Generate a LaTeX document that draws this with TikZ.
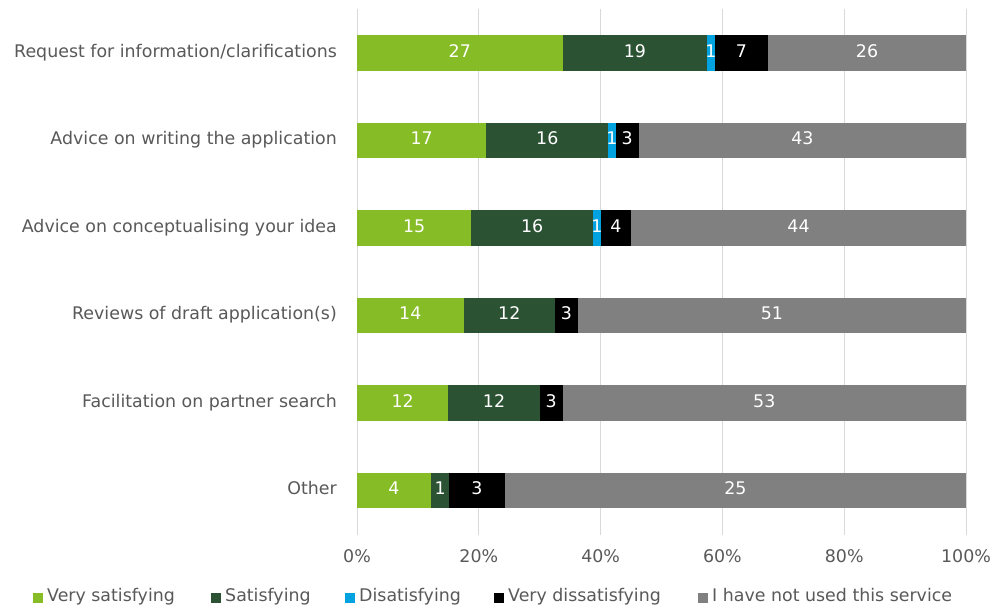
\documentclass[tikz,border=0pt]{standalone}
\usepackage{fontspec}
\setmainfont{DejaVu Sans}
\usetikzlibrary{positioning}

\definecolor{verysat}{HTML}{86BC25}
\definecolor{sat}{HTML}{2C5234}
\definecolor{disat}{HTML}{00A3E0}
\definecolor{verydisat}{HTML}{000000}
\definecolor{notused}{HTML}{808080}
\definecolor{labelgray}{HTML}{595959}
\definecolor{gridgray}{HTML}{D9D9D9}

\tikzset{
    chartfont/.style={font=\fontsize{17.4}{20}\selectfont, text height=1.75ex, text depth=0.25ex},
    seg/.style={minimum height=35.5pt, inner sep=0pt, outer sep=0pt,
        text=white, chartfont, anchor=west},
    cat/.style={anchor=east, inner sep=0pt, text=labelgray, chartfont},
    tick/.style={inner sep=0pt, text=labelgray, chartfont},
    key/.style={minimum size=10pt, inner sep=0pt, outer sep=0pt},
    keytext/.style={inner sep=0pt, text=labelgray, chartfont},
    grid/.style={gridgray, line width=1pt}
}

\begin{document}
\begin{tikzpicture}[x=1pt, y=-1pt]
    \useasboundingbox[fill=white] (0,0) rectangle (995,610);

    % gridlines
    \draw[grid] (357,9) -- (357,535);
    \draw[grid] (478.8,9) -- (478.8,535);
    \draw[grid] (600.6,9) -- (600.6,535);
    \draw[grid] (722.4,9) -- (722.4,535);
    \draw[grid] (844.2,9) -- (844.2,535);
    \draw[grid] (966,9) -- (966,535);

    % Request for information/clarifications
    \node[seg, fill=verysat, minimum width=205.54pt] (r1a) at (357,53) {\makebox[0pt]{27}};
    \node[seg, fill=sat, minimum width=144.64pt, right=0pt of r1a] (r1b) {\makebox[0pt]{19}};
    \node[seg, fill=disat, minimum width=7.61pt, right=0pt of r1b] (r1c) {\makebox[0pt]{1}};
    \node[seg, fill=verydisat, minimum width=53.29pt, right=0pt of r1c] (r1d) {\makebox[0pt]{7}};
    \node[seg, fill=notused, minimum width=197.92pt, right=0pt of r1d] (r1e) {\makebox[0pt]{26}};

    % Advice on writing the application
    \node[seg, fill=verysat, minimum width=129.41pt] (r2a) at (357,140.5) {\makebox[0pt]{17}};
    \node[seg, fill=sat, minimum width=121.8pt, right=0pt of r2a] (r2b) {\makebox[0pt]{16}};
    \node[seg, fill=disat, minimum width=7.61pt, right=0pt of r2b] (r2c) {\makebox[0pt]{1}};
    \node[seg, fill=verydisat, minimum width=22.84pt, right=0pt of r2c] (r2d) {\makebox[0pt]{3}};
    \node[seg, fill=notused, minimum width=327.34pt, right=0pt of r2d] (r2e) {\makebox[0pt]{43}};

    % Advice on conceptualising your idea
    \node[seg, fill=verysat, minimum width=114.19pt] (r3a) at (357,228) {\makebox[0pt]{15}};
    \node[seg, fill=sat, minimum width=121.8pt, right=0pt of r3a] (r3b) {\makebox[0pt]{16}};
    \node[seg, fill=disat, minimum width=7.61pt, right=0pt of r3b] (r3c) {\makebox[0pt]{1}};
    \node[seg, fill=verydisat, minimum width=30.45pt, right=0pt of r3c] (r3d) {\makebox[0pt]{4}};
    \node[seg, fill=notused, minimum width=334.95pt, right=0pt of r3d] (r3e) {\makebox[0pt]{44}};

    % Reviews of draft application(s)
    \node[seg, fill=verysat, minimum width=106.58pt] (r4a) at (357,315.5) {\makebox[0pt]{14}};
    \node[seg, fill=sat, minimum width=91.35pt, right=0pt of r4a] (r4b) {\makebox[0pt]{12}};
    \node[seg, fill=verydisat, minimum width=22.84pt, right=0pt of r4b] (r4d) {\makebox[0pt]{3}};
    \node[seg, fill=notused, minimum width=388.23pt, right=0pt of r4d] (r4e) {\makebox[0pt]{51}};

    % Facilitation on partner search
    \node[seg, fill=verysat, minimum width=91.35pt] (r5a) at (357,403) {\makebox[0pt]{12}};
    \node[seg, fill=sat, minimum width=91.35pt, right=0pt of r5a] (r5b) {\makebox[0pt]{12}};
    \node[seg, fill=verydisat, minimum width=22.84pt, right=0pt of r5b] (r5d) {\makebox[0pt]{3}};
    \node[seg, fill=notused, minimum width=403.46pt, right=0pt of r5d] (r5e) {\makebox[0pt]{53}};

    % Other
    \node[seg, fill=verysat, minimum width=73.82pt] (r6a) at (357,490.5) {\makebox[0pt]{4}};
    \node[seg, fill=sat, minimum width=18.45pt, right=0pt of r6a] (r6b) {\makebox[0pt]{1}};
    \node[seg, fill=verydisat, minimum width=55.36pt, right=0pt of r6b] (r6d) {\makebox[0pt]{3}};
    \node[seg, fill=notused, minimum width=461.37pt, right=0pt of r6d] (r6e) {\makebox[0pt]{25}};

    % categories
    \node[cat, left=20pt of r1a] (c1) {Request for information/clarifications};
    \node[cat, left=20pt of r2a] (c2) {Advice on writing the application};
    \node[cat, left=20pt of r3a] (c3) {Advice on conceptualising your idea};
    \node[cat, left=20pt of r4a] (c4) {Reviews of draft application(s)};
    \node[cat, left=20pt of r5a] (c5) {Facilitation on partner search};
    \node[cat, left=20pt of r6a] (c6) {Other};

    % axis
    \node[tick] (t0) at (357,558) {0\%};
    \node[tick] (t20) at (478.8,558) {20\%};
    \node[tick] (t40) at (600.6,558) {40\%};
    \node[tick] (t60) at (722.4,558) {60\%};
    \node[tick] (t80) at (844.2,558) {80\%};
    \node[tick] (t100) at (966,558) {100\%};

    % legend
    \node[key, fill=verysat] (k1) at (38,597.5) {};
    \node[keytext, right=4pt of k1] (l1) {Very satisfying};
    \node[key, fill=sat] (k2) at (216,597.5) {};
    \node[keytext, right=4pt of k2] (l2) {Satisfying};
    \node[key, fill=disat] (k3) at (350,597.5) {};
    \node[keytext, right=4pt of k3] (l3) {Disatisfying};
    \node[key, fill=verydisat] (k4) at (499,597.5) {};
    \node[keytext, right=4pt of k4] (l4) {Very dissatisfying};
    \node[key, fill=notused] (k5) at (703,597.5) {};
    \node[keytext, right=4pt of k5] (l5) {I have not used this service};
\end{tikzpicture}
\end{document}
